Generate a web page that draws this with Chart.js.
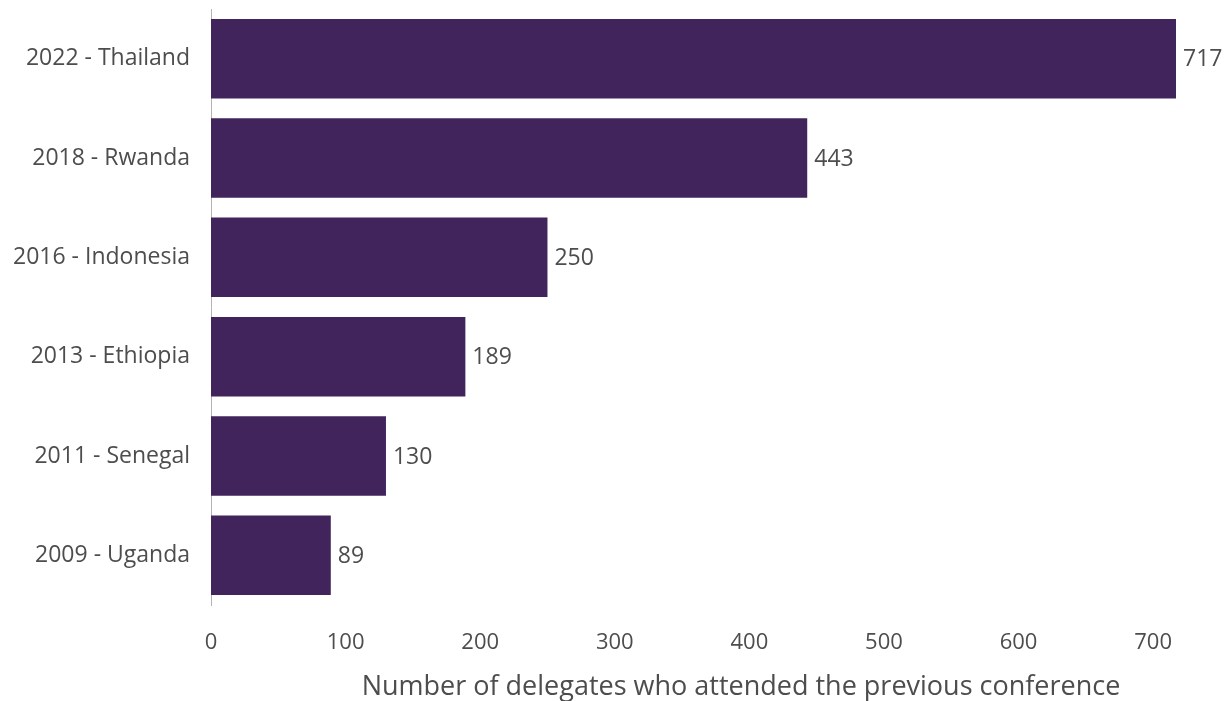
<!DOCTYPE html>
<html>
<head>
<meta charset="utf-8">
<title>Delegates</title>
<script src="https://cdn.jsdelivr.net/npm/chart.js@4/dist/chart.umd.min.js"></script>
<style>
    html, body { margin: 0; padding: 0; background: #fff; }
    #wrap { width: 1226px; height: 701px; }
</style>
</head>
<body>
<div id="wrap"><canvas id="delegatesChart"></canvas></div>
<script>
// Data
const categories = ['2022 - Thailand', '2018 - Rwanda', '2016 - Indonesia', '2013 - Ethiopia', '2011 - Senegal', '2009 - Uganda'];
const delegates = [717, 443, 250, 189, 130, 89];
const xTickValues = [0, 100, 200, 300, 400, 500, 600, 700];
const xTitle = 'Number of delegates who attended the previous conference';

const textColor = '#4d4d4d';
const barColor = '#41245c';
const fontFamily = "'Open Sans', 'Noto Sans', sans-serif";

// Value labels to the right of each bar
const valueLabels = {
    id: 'valueLabels',
    afterDatasetsDraw(chart) {
        const ctx = chart.ctx;
        const meta = chart.getDatasetMeta(0);
        ctx.save();
        ctx.font = '23px ' + fontFamily;
        ctx.fillStyle = textColor;
        ctx.textAlign = 'left';
        ctx.textBaseline = 'middle';
        meta.data.forEach(function(bar, i) {
            ctx.fillText(String(delegates[i]), bar.x + 7, bar.y + 1);
        });
        ctx.restore();
    }
};

// Axis title, drawn a bit right of the plot centre like the reference
const axisTitle = {
    id: 'axisTitle',
    afterDraw(chart) {
        const ctx = chart.ctx;
        ctx.save();
        ctx.font = '27px ' + fontFamily;
        ctx.fillStyle = textColor;
        ctx.textAlign = 'center';
        ctx.textBaseline = 'alphabetic';
        ctx.fillText(xTitle, chart.chartArea.left + 530, chart.chartArea.bottom + 90);
        ctx.restore();
    }
};

new Chart(document.getElementById('delegatesChart'), {
    type: 'bar',
    data: {
        labels: categories,
        datasets: [{
            data: delegates,
            backgroundColor: barColor,
            borderWidth: 0,
            categoryPercentage: 0.8,
            barPercentage: 1.0
        }]
    },
    options: {
        indexAxis: 'y',
        responsive: true,
        maintainAspectRatio: false,
        animation: false,
        layout: { padding: { top: 9, right: 50, left: 0, bottom: 0 } },
        plugins: {
            legend: { display: false },
            tooltip: { enabled: false }
        },
        scales: {
            x: {
                min: 0,
                max: 717,
                grid: { display: false, drawTicks: false },
                border: { display: false },
                afterBuildTicks: function(scale) {
                    scale.ticks = xTickValues.map(v => ({ value: v }));
                },
                afterFit: function(scale) {
                    scale.height = 96;
                    scale.paddingLeft = 0;
                    scale.paddingRight = 0;
                },
                ticks: {
                    padding: 25,
                    color: textColor,
                    font: { family: fontFamily, size: 22 },
                    maxRotation: 0
                }
            },
            y: {
                grid: { display: false, drawTicks: false },
                border: { display: true, color: '#b3b3b3', width: 1 },
                afterFit: function(scale) {
                    scale.width = 211;
                    scale.paddingTop = 0;
                    scale.paddingBottom = 0;
                },
                ticks: {
                    padding: 21,
                    color: textColor,
                    font: { family: fontFamily, size: 23 }
                }
            }
        }
    },
    plugins: [valueLabels, axisTitle]
});
</script>
</body>
</html>
